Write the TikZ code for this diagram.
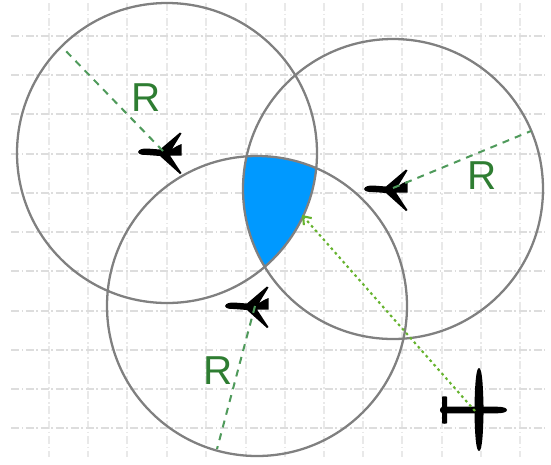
\documentclass[tikz,border=0pt]{standalone}
\usepackage{fontspec}
\usepackage{xcolor}
\usetikzlibrary{arrows.meta, calc, positioning}
\setmainfont{Liberation Sans}
\definecolor{gridgray}{HTML}{DDDDDD}
\definecolor{gridpale}{HTML}{E9E9E9}
\definecolor{rangegray}{HTML}{808080}
\definecolor{zoneblue}{HTML}{0099FF}
\definecolor{radiusgreen}{HTML}{4F9A5B}
\definecolor{labelgreen}{HTML}{2E7D32}
\definecolor{trackgreen}{HTML}{66B32E}
\tikzset{
    gridline/.style={gridgray, line width=0.7pt, dash pattern=on 4.5pt off 1.5pt on 1pt off 1.5pt},
    gridlinepale/.style={gridline, gridpale},
    rangecircle/.style={rangegray, line width=1.3pt},
    radiusline/.style={radiusgreen, line width=1.15pt, dash pattern=on 4pt off 3.5pt},
    trackline/.style={-{Straight Barb[length=4pt,width=6pt]}, trackgreen, line width=1.2pt, dash pattern=on 1.5pt off 1.9pt},
    rlabel/.style={labelgreen, font=\fontsize{23}{23}\selectfont, inner sep=0pt},
    smallplane/.pic={
        \fill[black] (-25,1) .. controls (-24,-2) and (-20,-2.5) .. (-16,-2.5)
            -- (-3,-1.5) -- (17,-18.5) -- (18.5,-17.5) -- (9,-2) -- (14,-5) -- (18.5,-7)
            -- (18.5,4.5) -- (7,4.5) -- (18.5,22) -- (17,23) -- (-3,5) -- (-16,4)
            .. controls (-20,4) and (-24,4) .. (-25,1) -- cycle;
    },
    bigplane/.pic={
        % wing
        \fill[black] (0,-42) .. controls (3,-42) and (4,-25) .. (4.5,-5) -- (4.5,5)
            .. controls (4,25) and (3,41) .. (0,41) .. controls (-3,41) and (-4,25) .. (-4.5,5)
            -- (-4.5,-5) .. controls (-4,-25) and (-3,-42) .. (0,-42) -- cycle;
        % body
        \fill[black] (-39,0) .. controls (-39,-3.3) and (-36,-3.3) .. (-33,-3.3) -- (18,-3.3)
            .. controls (24,-3.3) and (28,-2) .. (28,0) .. controls (28,2) and (24,3.3) .. (18,3.3)
            -- (-33,3.3) .. controls (-36,3.3) and (-39,3.3) .. (-39,0) -- cycle;
        % tail
        \fill[black] (-37,-13) .. controls (-37,-14) and (-32,-14) .. (-32,-13) -- (-32,13)
            .. controls (-32,14) and (-37,14) .. (-37,13) -- cycle;
    }
}
\begin{document}
\begin{tikzpicture}[x=0.02cm, y=-0.02cm, line width=1pt]
    \useasboundingbox (0,0) rectangle (551,464);
    % grid
    \foreach \gx in {49,88,127,167,206,246,285,324,363,402,442,481,520}
        \draw[gridlinepale] (\gx,3) -- (\gx,457);
    \foreach \gy in {36,75,114,154,193,232,271,311,350,389,428}
        \draw[gridline] (11,\gy) -- (545,\gy);
    % centres of the three circles
    \coordinate (centerA) at (167,153);
    \coordinate (centerB) at (393,189);
    \coordinate (centerC) at (257,306);
    % overlap
    \begin{scope}
        \clip (centerA) circle (150);
        \clip (centerB) circle (150);
        \fill[zoneblue] (centerC) circle (150);
    \end{scope}
    \draw[rangecircle] (centerA) circle (150);
    \draw[rangecircle] (centerB) circle (150);
    \draw[rangecircle] (centerC) circle (150);
    % planes
    \pic (planeA) at (163,151) {smallplane};
    \pic (planeB) at (389,188) {smallplane};
    \pic (planeC) at (250,305) {smallplane};
    \pic (planeD) at (479,410) {bigplane};
    % radii
    \coordinate (startA) at (163,151);
    \coordinate (startB) at (393,188);
    \coordinate (startC) at (255,306);
    \coordinate (rimA) at (62,47);
    \coordinate (rimB) at (531,131);
    \coordinate (rimC) at (217,449);
    \draw[radiusline] (startA) -- (rimA);
    \draw[radiusline] (startB) -- (rimB);
    \draw[radiusline] (startC) -- (rimC);
    \node[rlabel] (labelA) at (146,98) {R};
    \node[rlabel] (labelB) at (482,176) {R};
    \node[rlabel] (labelC) at (218,371) {R};
    % track to the overlap
    \coordinate (trackstart) at (475,411);
    \coordinate (trackend) at (302,215);
    \draw[trackline] (trackstart) -- (trackend);
\end{tikzpicture}
\end{document}
